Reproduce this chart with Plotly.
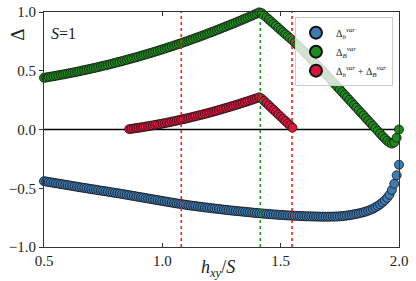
import numpy as np
import plotly.graph_objects as go

# x grid of the computation (step 0.01)
h_grid = np.round(np.arange(0.50, 2.001, 0.01), 2)
h_red = np.round(np.arange(0.86, 1.551, 0.01), 2)

delta_b = [
    -0.440, -0.443, -0.447, -0.450, -0.454, -0.457, -0.460, -0.464, -0.467, -0.471,
    -0.474, -0.477, -0.481, -0.484, -0.487, -0.491, -0.494, -0.497, -0.500, -0.504,
    -0.507, -0.510, -0.513, -0.517, -0.520, -0.523, -0.526, -0.529, -0.533, -0.536,
    -0.539, -0.542, -0.545, -0.549, -0.552, -0.556, -0.559, -0.563, -0.566, -0.570,
    -0.573, -0.577, -0.580, -0.584, -0.587, -0.591, -0.594, -0.598, -0.601, -0.605,
    -0.608, -0.612, -0.615, -0.619, -0.622, -0.626, -0.629, -0.632, -0.635, -0.638,
    -0.641, -0.644, -0.647, -0.650, -0.652, -0.655, -0.658, -0.660, -0.663, -0.665,
    -0.668, -0.670, -0.673, -0.675, -0.677, -0.680, -0.682, -0.684, -0.687, -0.689,
    -0.691, -0.693, -0.695, -0.697, -0.699, -0.701, -0.703, -0.705, -0.707, -0.709,
    -0.711, -0.713, -0.715, -0.716, -0.718, -0.720, -0.721, -0.723, -0.724, -0.726,
    -0.727, -0.728, -0.730, -0.731, -0.732, -0.733, -0.734, -0.735, -0.736, -0.737,
    -0.738, -0.739, -0.739, -0.740, -0.740, -0.741, -0.741, -0.742, -0.742, -0.742,
    -0.742, -0.742, -0.741, -0.741, -0.740, -0.739, -0.737, -0.735, -0.732, -0.729,
    -0.726, -0.722, -0.718, -0.714, -0.709, -0.704, -0.698, -0.691, -0.683, -0.674,
    -0.663, -0.651, -0.637, -0.621, -0.603, -0.581, -0.555, -0.515, -0.462, -0.390,
    -0.300,
]

delta_B = [
    0.440, 0.443, 0.447, 0.450, 0.454, 0.457, 0.461, 0.465, 0.468, 0.472,
    0.476, 0.480, 0.484, 0.488, 0.492, 0.496, 0.501, 0.505, 0.509, 0.514,
    0.518, 0.523, 0.527, 0.532, 0.537, 0.542, 0.546, 0.551, 0.556, 0.561,
    0.567, 0.572, 0.577, 0.582, 0.588, 0.593, 0.599, 0.604, 0.610, 0.615,
    0.621, 0.627, 0.633, 0.639, 0.645, 0.651, 0.657, 0.663, 0.669, 0.676,
    0.682, 0.688, 0.695, 0.702, 0.708, 0.715, 0.722, 0.728, 0.735, 0.742,
    0.749, 0.756, 0.763, 0.771, 0.778, 0.785, 0.792, 0.800, 0.807, 0.815,
    0.823, 0.830, 0.838, 0.846, 0.854, 0.862, 0.870, 0.878, 0.886, 0.894,
    0.902, 0.910, 0.919, 0.927, 0.936, 0.944, 0.953, 0.962, 0.970, 0.979,
    0.988, 0.997, 0.990, 0.972, 0.954, 0.936, 0.918, 0.900, 0.883, 0.865,
    0.847, 0.829, 0.811, 0.794, 0.776, 0.758, 0.739, 0.720, 0.700, 0.680,
    0.660, 0.640, 0.620, 0.599, 0.578, 0.557, 0.536, 0.515, 0.494, 0.472,
    0.450, 0.428, 0.406, 0.384, 0.362, 0.340, 0.318, 0.296, 0.274, 0.252,
    0.230, 0.208, 0.186, 0.164, 0.142, 0.120, 0.098, 0.076, 0.054, 0.032,
    0.010, -0.012, -0.034, -0.056, -0.077, -0.096, -0.112, -0.120, -0.110, -0.070,
    0.000,
]

delta_sum = [
    0.003, 0.006, 0.009, 0.012, 0.015, 0.018, 0.021, 0.025, 0.028, 0.032,
    0.035, 0.039, 0.043, 0.046, 0.050, 0.054, 0.058, 0.062, 0.067, 0.071,
    0.075, 0.080, 0.084, 0.089, 0.093, 0.098, 0.103, 0.108, 0.113, 0.118,
    0.123, 0.128, 0.133, 0.138, 0.144, 0.149, 0.155, 0.160, 0.166, 0.172,
    0.178, 0.184, 0.190, 0.196, 0.202, 0.208, 0.214, 0.221, 0.227, 0.234,
    0.240, 0.247, 0.254, 0.261, 0.267, 0.274, 0.262, 0.243, 0.224, 0.205,
    0.186, 0.167, 0.148, 0.129, 0.110, 0.091, 0.072, 0.053, 0.034, 0.015,
]

vlines_red = [1.08, 1.548]
vline_green = [1.414]

x_ticks = [0.5, 1.0, 1.5, 2.0]
y_ticks = [-1.0, -0.5, 0.0, 0.5, 1.0]

SERIF = "Liberation Serif"

fig = go.Figure()

def add_series(x, y, color, name):
    fig.add_trace(go.Scatter(
        x=x, y=y, mode="markers", name=name, cliponaxis=False,
        marker=dict(size=9, color=color, line=dict(color="#111111", width=0.8)),
    ))

add_series(h_grid, delta_b, "#3f7bb3", "Δ<sub><i>b</i></sub><sup><i>var</i></sup>")
add_series(h_grid, delta_B, "#1f8a1f", "Δ<sub><i>B</i></sub><sup><i>var</i></sup>")
add_series(h_red, delta_sum, "#d7143c",
           "Δ<sub><i>b</i></sub><sup><i>var</i></sup> + Δ<sub><i>B</i></sub><sup><i>var</i></sup>")

# horizontal zero line (below markers)
fig.add_hline(y=0, line=dict(color="black", width=1.3), layer="below")
for xv in vlines_red:
    fig.add_vline(x=xv, line=dict(color="#ff1a1a", width=1.6, dash="dot"), layer="above")
for xv in vline_green:
    fig.add_vline(x=xv, line=dict(color="#1a9a1a", width=1.6, dash="dot"), layer="above")

fig.update_layout(
    width=416, height=281,
    margin=dict(l=44, r=17, t=12, b=34, autoexpand=False),
    paper_bgcolor="white", plot_bgcolor="white",
    font=dict(family=SERIF, size=15, color="#222222"),
    showlegend=True,
    legend=dict(
        x=0.983, y=0.978, xanchor="right", yanchor="top",
        bgcolor="rgba(255,255,255,0.8)", bordercolor="#cccccc", borderwidth=1,
        font=dict(family=SERIF, size=10, color="#222222"),
        itemsizing="constant", tracegroupgap=0,
    ),
    xaxis=dict(
        range=[0.5, 2.0], tickvals=x_ticks, ticktext=["0.5", "1.0", "1.5", "2.0"],
        showgrid=False, zeroline=False, showline=True, linecolor="#333333", linewidth=1.2,
        mirror="ticks", ticks="inside", ticklen=4, tickcolor="#333333",
        tickfont=dict(family=SERIF, size=15, color="#222222"),
    ),
    yaxis=dict(
        range=[-1.0, 1.0], tickvals=y_ticks, ticktext=["−1.0", "−0.5", "0.0", "0.5", "1.0"],
        showgrid=False, zeroline=False, showline=True, linecolor="#333333", linewidth=1.2,
        mirror=True, ticks="outside", ticklen=4, tickcolor="#333333",
        tickfont=dict(family=SERIF, size=15, color="#222222"),
    ),
    annotations=[
        dict(text="<i>h</i><sub><i>xy</i></sub>/<i>S</i>", xref="paper", yref="paper",
             x=0.49, y=-0.035, xanchor="center", yanchor="top", showarrow=False,
             font=dict(family=SERIF, size=18, color="#222222")),
        dict(text="Δ", xref="paper", yref="paper", x=-0.075, y=0.905,
             xanchor="center", yanchor="middle", textangle=-90, showarrow=False,
             font=dict(family=SERIF, size=19, color="#222222")),
        dict(text="<i>S</i>=1", xref="paper", yref="paper", x=0.015, y=0.955,
             xanchor="left", yanchor="top", showarrow=False,
             font=dict(family=SERIF, size=16, color="#222222")),
    ],
)

fig.write_html("out.html", config={"displayModeBar": False},
               post_script="document.body.style.margin='0';")
